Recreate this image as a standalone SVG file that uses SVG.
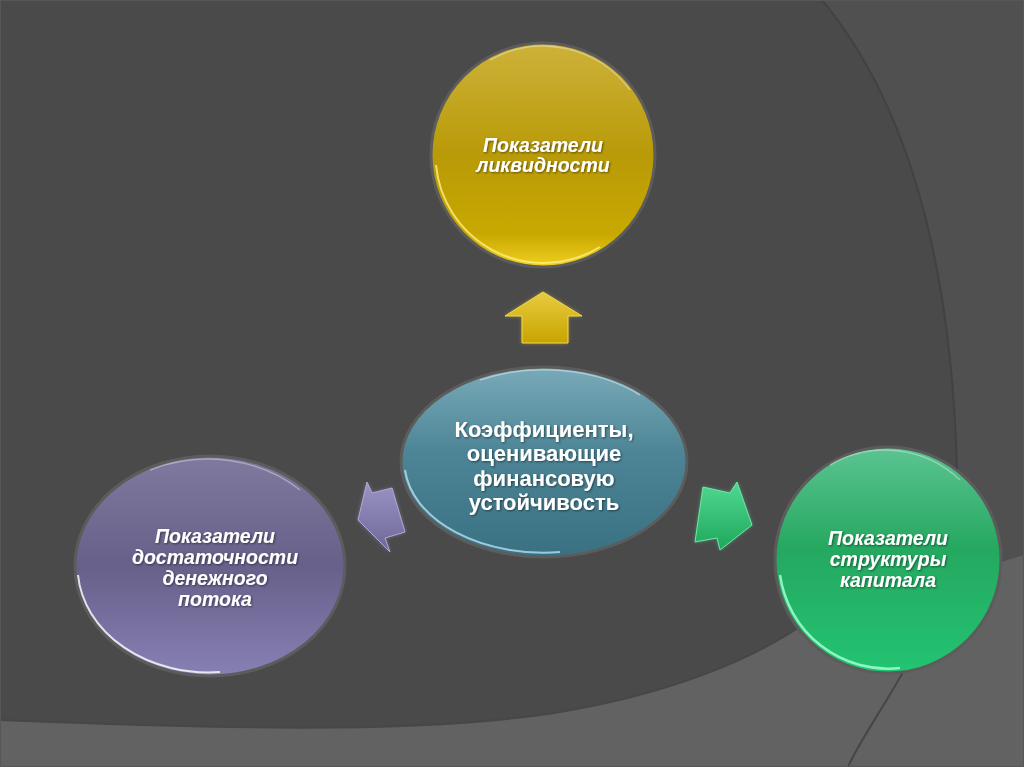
<svg xmlns="http://www.w3.org/2000/svg" width="1024" height="767" viewBox="0 0 1024 767">
<defs>
<style>
.t{font-family:"Liberation Sans",Arial,sans-serif;font-weight:bold;fill:#ffffff;text-anchor:middle}
.i{font-style:italic;font-size:19.5px}
.c{font-size:22px}
.rim{fill:none;stroke:#5c5c5c;stroke-width:3}
</style>
<linearGradient id="gY" x1="0" y1="0" x2="0" y2="1">
<stop offset="0" stop-color="#cdb23a"/><stop offset="0.5" stop-color="#b99a08"/><stop offset="0.85" stop-color="#c8a800"/><stop offset="1" stop-color="#f0d020"/>
</linearGradient>
<linearGradient id="gC" x1="0" y1="0" x2="0" y2="1">
<stop offset="0" stop-color="#79aab9"/><stop offset="0.45" stop-color="#4d8596"/><stop offset="1" stop-color="#3a7182"/>
</linearGradient>
<linearGradient id="gP" x1="0" y1="0" x2="0" y2="1">
<stop offset="0" stop-color="#7f7a9e"/><stop offset="0.5" stop-color="#67608a"/><stop offset="1" stop-color="#8780b4"/>
</linearGradient>
<linearGradient id="gG" x1="0" y1="0" x2="0" y2="1">
<stop offset="0" stop-color="#5cc492"/><stop offset="0.45" stop-color="#25a860"/><stop offset="1" stop-color="#22c472"/>
</linearGradient>
<linearGradient id="aY" x1="0" y1="0" x2="0" y2="1">
<stop offset="0" stop-color="#e8cc40"/><stop offset="1" stop-color="#c8a400"/>
</linearGradient>
<linearGradient id="aP" x1="0" y1="0" x2="0" y2="1">
<stop offset="0" stop-color="#9a94c4"/><stop offset="1" stop-color="#6e6898"/>
</linearGradient>
<linearGradient id="aG" x1="0" y1="0" x2="0" y2="1">
<stop offset="0" stop-color="#50d890"/><stop offset="1" stop-color="#1ea85c"/>
</linearGradient>
<filter id="sh" x="-20%" y="-20%" width="140%" height="140%">
<feDropShadow dx="1" dy="1" stdDeviation="0.8" flood-color="#000" flood-opacity="0.5"/>
</filter>
<filter id="glow" x="-30%" y="-30%" width="160%" height="160%">
<feGaussianBlur stdDeviation="2"/>
</filter>
</defs>

<g id="background">
<rect x="0" y="0" width="1024" height="767" fill="#4a4a4a"/>
<path d="M822,0 C880,70 950,200 957,470 L957,560 L1024,560 L1024,0 Z" fill="#505050"/>
<path d="M822,0 C880,70 950,200 957,470" fill="none" stroke="#424242" stroke-width="2"/>
<path d="M0,720 C200,728 420,735 560,712 C680,692 760,655 810,620 L1024,555 L1024,767 L0,767 Z" fill="#626262"/>
<path d="M0,720 C200,728 420,735 560,712 C680,692 760,655 810,620" fill="none" stroke="#474747" stroke-width="2"/>
<path d="M903,672 C885,705 860,740 848,767" fill="none" stroke="#464646" stroke-width="2"/>
<rect x="0.5" y="0.5" width="1023" height="766" fill="none" stroke="#575757" stroke-width="1"/>
</g>

<g id="connectors">
<g id="arrow-up">
<polygon points="543,292 582,316 568,316 568,343 522,343 522,316 505,316" fill="#e8d040" opacity="0.5" filter="url(#glow)"/>
<polygon points="543,292 582,316 568,316 568,343 522,343 522,316 505,316" fill="url(#aY)" stroke="#f0d850" stroke-width="1"/>
</g>
<g id="arrow-left">
<polygon points="358,520 367,482 372,493 392,488 405,532 385,538 390,552" fill="#a8a0d0" opacity="0.5" filter="url(#glow)"/>
<polygon points="358,520 367,482 372,493 392,488 405,532 385,538 390,552" fill="url(#aP)" stroke="#b0a8d8" stroke-width="1"/>
</g>
<g id="arrow-right">
<polygon points="703,487 730,493 737,482 752,525 720,550 717,538 695,542" fill="#60e0a0" opacity="0.5" filter="url(#glow)"/>
<polygon points="703,487 730,493 737,482 752,525 720,550 717,538 695,542" fill="url(#aG)" stroke="#70e8a8" stroke-width="1"/>
</g>
</g>

<g id="node-liquidity">
<circle cx="543" cy="155" r="112" fill="url(#gY)"/>
<circle cx="543" cy="155" r="112" class="rim"/>
<path d="M436,165 A108,108 0 0 0 600,247" fill="none" stroke="#fff080" stroke-opacity="0.8" stroke-width="2"/>
<path d="M490,60 A108,108 0 0 1 630,90" fill="none" stroke="#ffffff" stroke-opacity="0.35" stroke-width="1.5"/>
<text class="t i" x="543" y="152" filter="url(#sh)">Показатели</text>
<text class="t i" x="543" y="172" filter="url(#sh)">ликвидности</text>
</g>

<g id="node-center">
<ellipse cx="544" cy="462" rx="143" ry="95" fill="url(#gC)"/>
<ellipse cx="544" cy="462" rx="143" ry="95" class="rim"/>
<path d="M405,470 A139,91 0 0 0 560,552" fill="none" stroke="#c8f0ff" stroke-opacity="0.7" stroke-width="2"/>
<path d="M480,380 A139,91 0 0 1 640,395" fill="none" stroke="#ffffff" stroke-opacity="0.4" stroke-width="1.5"/>
<text class="t c" x="544" y="437" filter="url(#sh)">Коэффициенты,</text>
<text class="t c" x="544" y="461" filter="url(#sh)">оценивающие</text>
<text class="t c" x="544" y="486" filter="url(#sh)">финансовую</text>
<text class="t c" x="544" y="510" filter="url(#sh)">устойчивость</text>
</g>

<g id="node-cashflow">
<ellipse cx="210" cy="566" rx="135" ry="110" fill="url(#gP)"/>
<ellipse cx="210" cy="566" rx="135" ry="110" class="rim"/>
<path d="M78,575 A131,106 0 0 0 220,672" fill="none" stroke="#ffffff" stroke-opacity="0.8" stroke-width="2"/>
<path d="M150,470 A131,106 0 0 1 300,490" fill="none" stroke="#ffffff" stroke-opacity="0.35" stroke-width="1.5"/>
<text class="t i" x="215" y="543" filter="url(#sh)">Показатели</text>
<text class="t i" x="215" y="564" filter="url(#sh)">достаточности</text>
<text class="t i" x="215" y="585" filter="url(#sh)">денежного</text>
<text class="t i" x="215" y="606" filter="url(#sh)">потока</text>
</g>

<g id="node-capital">
<circle cx="888" cy="560" r="113" fill="url(#gG)"/>
<circle cx="888" cy="560" r="113" class="rim"/>
<path d="M780,575 A109,109 0 0 0 900,668" fill="none" stroke="#a0ffd0" stroke-opacity="0.85" stroke-width="2.5"/>
<path d="M830,465 A109,109 0 0 1 960,480" fill="none" stroke="#ffffff" stroke-opacity="0.35" stroke-width="1.5"/>
<text class="t i" x="888" y="545" filter="url(#sh)">Показатели</text>
<text class="t i" x="888" y="566" filter="url(#sh)">структуры</text>
<text class="t i" x="888" y="587" filter="url(#sh)">капитала</text>
</g>
</svg>
